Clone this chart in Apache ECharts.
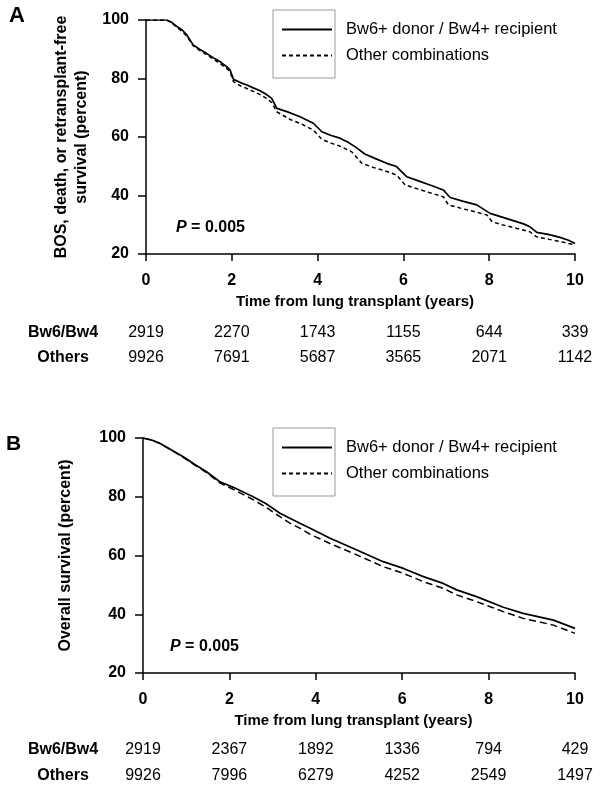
<!DOCTYPE html>
<html>
<head>
<meta charset="utf-8">
<script src="https://cdn.jsdelivr.net/npm/echarts@6/dist/echarts.min.js"></script>
<style>html,body{margin:0;padding:0;background:#fff}#c{width:604px;height:791px}</style>
</head>
<body>
<div id="c"></div>
<script>
// ---------- DATA ----------
const seriesNames = ['Bw6+ donor / Bw4+ recipient', 'Other combinations'];
const xTicks = [0, 2, 4, 6, 8, 10];
const riskRowLabels = ['Bw6/Bw4', 'Others'];

// Panel A: BOS, death, or retransplant-free survival
const timeA_bw = [0,0.48,0.6,0.71,0.85,0.95,1.1,1.25,1.41,1.6,1.72,1.9,1.96,2.04,2.2,2.35,2.5,2.66,2.8,2.93,3.05,3.3,3.59,3.9,4.1,4.3,4.52,4.7,4.87,5.1,5.35,5.61,5.84,6.08,6.35,6.62,6.93,7.09,7.4,7.71,8.02,8.3,8.56,8.8,8.95,9.11,9.4,9.65,9.85,10];
const survA_bw = [100,100,99.2,97.9,96.5,94.9,91.5,90.0,88.6,86.8,85.8,83.8,82.9,79.7,78.6,77.8,76.8,75.8,74.6,73.2,69.8,68.6,66.9,64.7,61.8,60.6,59.6,58.3,56.7,54.2,52.6,51.0,49.9,46.4,45.0,43.6,41.9,39.3,38.0,36.8,33.9,32.6,31.4,30.3,29.3,27.4,26.6,25.7,24.7,23.6];
const timeA_oth = [0,0.48,0.6,0.71,0.85,0.95,1.1,1.25,1.41,1.6,1.72,1.9,1.96,2.04,2.2,2.35,2.5,2.66,2.8,2.93,3.05,3.36,3.6,3.9,4.1,4.3,4.5,4.79,5.03,5.3,5.6,5.84,6.04,6.3,6.6,6.93,7.05,7.4,7.7,7.95,8.07,8.3,8.6,8.95,9.1,9.4,9.7,10];
const survA_oth = [100,100,99.0,97.6,96.0,94.5,91.2,89.6,88.2,86.3,85.2,83.2,82.2,78.9,77.5,76.6,75.6,74.5,73.3,71.8,68.6,66.0,64.6,62.4,59.2,58.0,57.0,55.0,51.0,49.6,48.3,47.0,43.6,42.4,41.0,39.6,36.8,35.4,34.3,33.3,31.0,30.0,28.9,27.6,25.9,25.0,24.1,23.1];
const riskA_bw = [2919, 2270, 1743, 1155, 644, 339];
const riskA_oth = [9926, 7691, 5687, 3565, 2071, 1142];

// Panel B: Overall survival
const timeB = [0,0.2,0.39,0.65,0.93,1.2,1.47,1.78,2.09,2.55,2.85,3.17,3.4,3.63,3.87,4.33,4.95,5.56,6.03,6.49,6.95,7.26,7.72,8.34,8.8,9.5,10];
const survB_bw = [100,99.3,98.2,96.0,93.6,91.0,88.5,85.1,83.2,80.0,77.6,74.4,72.7,71.0,69.3,65.9,61.9,57.9,55.6,52.8,50.5,48.3,46.0,42.4,40.3,38.0,35.2];
const survB_oth = [100,99.3,98.1,95.9,93.4,90.8,88.2,84.7,82.5,79.0,76.4,73.2,71.0,69.3,67.2,64.1,60.2,56.2,53.9,51.1,48.8,46.6,44.3,40.9,38.6,36.3,33.5];
const riskB_bw = [2919, 2367, 1892, 1336, 794, 429];
const riskB_oth = [9926, 7996, 6279, 4252, 2549, 1497];

// ---------- CHART ----------
const FONT = 'Arial, "Liberation Sans", Helvetica, sans-serif';
const pairs = (t, v) => t.map((x, i) => [x, v[i]]);

function mainX(gridIndex, yearsTitle) {
  return {
    type: 'value', gridIndex, min: 0, max: 10, interval: 2, position: 'bottom',
    name: yearsTitle, nameLocation: 'middle', nameGap: 40,
    nameTextStyle: { fontFamily: FONT, fontWeight: 'bold', fontSize: 15, color: '#000', padding: [0, 11, 0, 0] },
    axisLine: { show: true, onZero: false, lineStyle: { color: '#000', width: 1.5 } },
    axisTick: { show: true, length: 7, lineStyle: { color: '#000', width: 1.5 } },
    axisLabel: { margin: 19, fontFamily: FONT, fontWeight: 'bold', fontSize: 16, color: '#000' },
    splitLine: { show: false }
  };
}
function riskX(gridIndex, offset, label, values, startGap) {
  return {
    type: 'value', gridIndex, min: 0, max: 10, interval: 2, position: 'bottom', offset,
    name: label, nameLocation: 'start', nameGap: startGap,
    nameTextStyle: { fontFamily: FONT, fontWeight: 'bold', fontSize: 16, color: '#000', align: 'center', verticalAlign: 'middle' },
    axisLine: { show: false }, axisTick: { show: false }, splitLine: { show: false },
    axisLabel: {
      margin: 0, verticalAlign: 'middle', fontFamily: FONT, fontSize: 16, color: '#000',
      formatter: v => { const i = xTicks.indexOf(v); return i >= 0 ? String(values[i]) : ''; }
    }
  };
}
function mainY(gridIndex, title, gap) {
  return {
    type: 'value', gridIndex, min: 20, max: 100, interval: 20,
    name: title, nameLocation: 'middle', nameGap: gap, nameRotate: 90,
    nameTextStyle: { fontFamily: FONT, fontWeight: 'bold', fontSize: 16, color: '#000', lineHeight: 20 },
    axisLine: { show: true, onZero: false, lineStyle: { color: '#000', width: 1.5 } },
    axisTick: { show: true, length: 8, lineStyle: { color: '#000', width: 1.5 } },
    axisLabel: { margin: 17, fontFamily: FONT, fontWeight: 'bold', fontSize: 16, color: '#000' },
    splitLine: { show: false }
  };
}
function line(name, xi, yi, data, dashed) {
  return {
    name, type: 'line', xAxisIndex: xi, yAxisIndex: yi, data, symbol: 'none', smooth: false,
    lineStyle: { color: '#000', width: dashed ? 1.5 : 1.7, type: dashed || 'solid' },
    itemStyle: { color: '#000' }, silent: true, animation: false
  };
}
function legendAt(top) {
  return {
    left: 281, top, padding: 0, orient: 'vertical', itemWidth: 50, itemHeight: 14, itemGap: 9,
    data: seriesNames, selectedMode: false,
    itemStyle: { opacity: 0 },
    textStyle: { fontFamily: FONT, fontSize: 16.5, color: '#000', padding: [0, 0, 0, 9] }
  };
}
function pText(x, y) {
  return {
    type: 'text', left: x, top: y,
    style: {
      text: '{i|P} {b|= 0.005}', fontFamily: FONT, fontSize: 16, fill: '#000',
      rich: { i: { fontStyle: 'italic', fontWeight: 'bold', fontSize: 16, fontFamily: FONT },
              b: { fontWeight: 'bold', fontSize: 16, fontFamily: FONT } }
    }
  };
}

const chart = echarts.init(document.getElementById('c'), null, { renderer: 'canvas' });
chart.setOption({
  animation: false,
  backgroundColor: '#fff',
  grid: [
    { left: 146, right: 29, top: 20, height: 234, containLabel: false },
    { left: 143, right: 29, top: 438, height: 235, containLabel: false }
  ],
  xAxis: [
    mainX(0, 'Time from lung transplant (years)'),
    riskX(0, 79, riskRowLabels[0], riskA_bw, 83),
    riskX(0, 104, riskRowLabels[1], riskA_oth, 83),
    mainX(1, 'Time from lung transplant (years)'),
    riskX(1, 77, riskRowLabels[0], riskB_bw, 80),
    riskX(1, 103, riskRowLabels[1], riskB_oth, 80)
  ],
  yAxis: [
    mainY(0, 'BOS, death, or retransplant-free\nsurvival (percent)', 53),
    mainY(1, 'Overall survival (percent)', 67)
  ],
  legend: [legendAt(21), legendAt(439)],
  series: [
    line(seriesNames[0], 0, 0, pairs(timeA_bw, survA_bw), null),
    line(seriesNames[1], 0, 0, pairs(timeA_oth, survA_oth), [4, 3]),
    line(seriesNames[0], 3, 1, pairs(timeB, survB_bw), null),
    line(seriesNames[1], 3, 1, pairs(timeB, survB_oth), [7, 4])
  ],
  graphic: [
    { type: 'rect', shape: { x: 273, y: 10, width: 62, height: 68 }, style: { fill: 'none', stroke: '#999', lineWidth: 1 } },
    { type: 'rect', shape: { x: 273, y: 428, width: 62, height: 68 }, style: { fill: 'none', stroke: '#999', lineWidth: 1 } },
    { type: 'text', left: 9, top: 5, style: { text: 'A', fontFamily: FONT, fontWeight: 'bold', fontSize: 22, fill: '#000' } },
    { type: 'text', left: 6, top: 434, style: { text: 'B', fontFamily: FONT, fontWeight: 'bold', fontSize: 21, fill: '#000' } },
    pText(176, 220),
    pText(170, 639)
  ]
});
</script>
</body>
</html>
